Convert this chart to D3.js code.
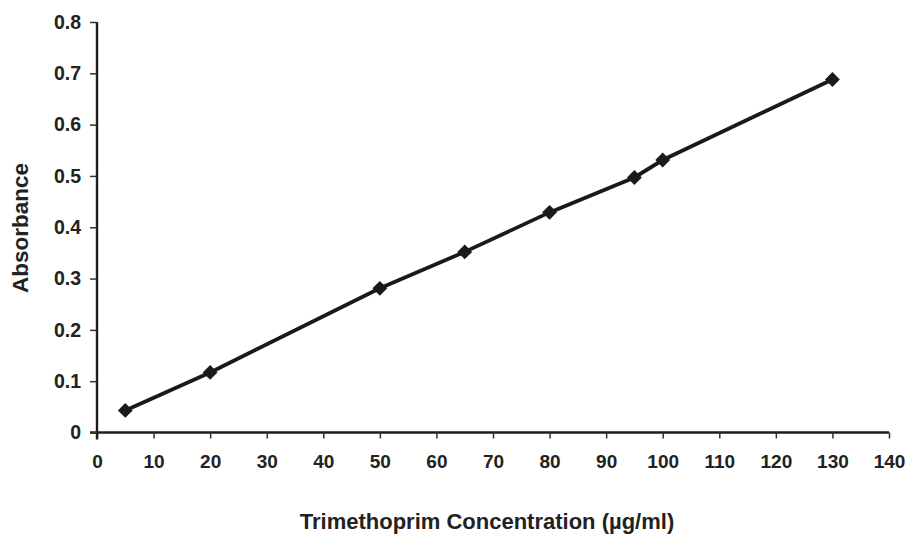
<!DOCTYPE html>
<html>
<head>
<meta charset="utf-8">
<script src="https://cdn.jsdelivr.net/npm/d3@7"></script>
<style>
  body { margin: 0; background: #fff; }
  svg text { font-family: "Liberation Sans", Arial, sans-serif; font-weight: bold; fill: #222; }
</style>
</head>
<body>
<svg id="chart"></svg>
<script>
// concentration (ug/ml) vs absorbance
var concentration = [5, 20, 50, 65, 80, 95, 100, 130];
var absorbance = [0.043, 0.117, 0.281, 0.352, 0.429, 0.497, 0.531, 0.688];
var xTicks = [0, 10, 20, 30, 40, 50, 60, 70, 80, 90, 100, 110, 120, 130, 140];
var yTicks = [0, 0.1, 0.2, 0.3, 0.4, 0.5, 0.6, 0.7, 0.8];

var width = 909, height = 535;
var margin = { top: 22, right: 20, bottom: 102.5, left: 97 };

var svg = d3.select("#chart")
  .attr("width", width)
  .attr("height", height);

var x = d3.scaleLinear().domain([0, 140]).range([margin.left, 889]);
var y = d3.scaleLinear().domain([0, 0.8]).range([height - margin.bottom, margin.top]);

var data = concentration.map(function (c, i) {
  return { c: c, a: absorbance[i] };
});

// x axis
var xAxis = svg.append("g")
  .attr("transform", "translate(0," + y(0) + ")")
  .call(d3.axisBottom(x).tickValues(xTicks).tickSize(6).tickPadding(16)
    .tickFormat(d3.format("d")));
xAxis.select(".domain").attr("stroke", "#1e1e1e").attr("stroke-width", 2.4)
  .attr("d", "M" + (margin.left - 7) + ",0H" + x(140));
xAxis.selectAll(".tick line").attr("stroke", "#333").attr("stroke-width", 1.5);
xAxis.selectAll("text").style("font-size", "19px");

// y axis
var yAxis = svg.append("g")
  .attr("transform", "translate(" + x(0) + ",0)")
  .call(d3.axisLeft(y).tickValues(yTicks).tickSize(7).tickPadding(9)
    .tickFormat(function (d) { return d === 0 ? "0" : d3.format(".1f")(d); }));
yAxis.select(".domain").attr("stroke", "#1e1e1e").attr("stroke-width", 2.4)
  .attr("d", "M0," + y(0.8) + "V" + (y(0) + 7));
yAxis.selectAll(".tick line").attr("stroke", "#333").attr("stroke-width", 1.5);
yAxis.selectAll("text").style("font-size", "19.5px");

// axis titles
svg.append("text")
  .attr("x", 487)
  .attr("y", 529)
  .attr("text-anchor", "middle")
  .style("font-size", "22px")
  .text("Trimethoprim Concentration (µg/ml)");

svg.append("text")
  .attr("transform", "translate(28,228) rotate(-90)")
  .attr("text-anchor", "middle")
  .style("font-size", "22.5px")
  .text("Absorbance");

// data line
var line = d3.line()
  .x(function (d) { return x(d.c); })
  .y(function (d) { return y(d.a); });

svg.append("path")
  .datum(data)
  .attr("d", line)
  .attr("fill", "none")
  .attr("stroke", "#1a1a1a")
  .attr("stroke-width", 3.8);

// diamond markers
svg.append("g")
  .selectAll("path")
  .data(data)
  .enter()
  .append("path")
  .attr("transform", function (d) { return "translate(" + x(d.c) + "," + y(d.a) + ")"; })
  .attr("d", d3.symbol().type(d3.symbolDiamond2).size(140))
  .attr("fill", "#1a1a1a");
</script>
</body>
</html>
